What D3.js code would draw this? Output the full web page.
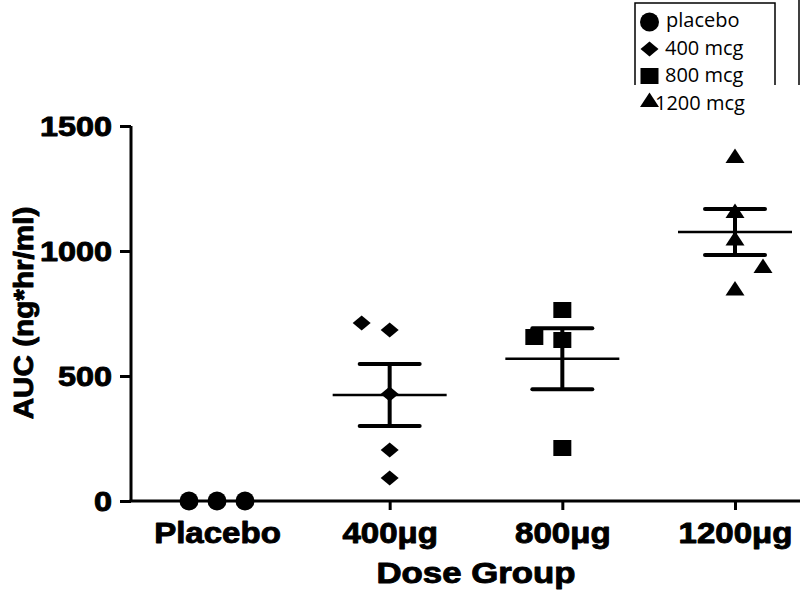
<!DOCTYPE html>
<html>
<head>
<meta charset="utf-8">
<script src="https://cdn.jsdelivr.net/npm/d3@7"></script>
<style>
  html, body { margin: 0; padding: 0; background: #fff; }
  svg { display: block; }
</style>
</head>
<body>
<svg id="chart" width="800" height="591"></svg>
<script>
// ---------- data ----------
const categories = ["Placebo", "400\u03bcg", "800\u03bcg", "1200\u03bcg"];
const shapes = ["circle", "diamond", "square", "triangle"];
const placeboValues = [0, 0, 0];
const dose400Values = [712, 684, 428, 204, 92];
const dose800Values = [764, 656, 644, 212];
const dose1200Values = [1380, 1160, 1050, 940, 850];
// column slot of each point (GraphPad-style scatter spreading)
const placeboSlots = [-1, 0, 1];
const dose400Slots = [-1, 0, 0, 0, 0];
const dose800Slots = [0, -1, 0, 0];
const dose1200Slots = [0, 0, 0, 1, 0];
const yTicks = [0, 500, 1000, 1500];
const legendLabels = ["placebo", "400 mcg", "800 mcg", "1200 mcg"];

const groups = [
  { cat: categories[0], shape: shapes[0], values: placeboValues, slots: placeboSlots, bars: false },
  { cat: categories[1], shape: shapes[1], values: dose400Values, slots: dose400Slots, bars: true },
  { cat: categories[2], shape: shapes[2], values: dose800Values, slots: dose800Slots, bars: true },
  { cat: categories[3], shape: shapes[3], values: dose1200Values, slots: dose1200Slots, bars: true }
];

// ---------- scales ----------
const svg = d3.select("#chart");
const y = d3.scaleLinear().domain([0, 1500]).range([501, 126]);
const x = d3.scalePoint().domain(categories).range([217, 735]);
const axisX0 = 131;
const slotW = 28;
const boldFont = "'Liberation Sans', Arial, sans-serif";

function markerPath(shape, cx, cy) {
  const p = d3.path();
  if (shape === "circle") {
    p.moveTo(cx + 9.5, cy);
    p.arc(cx, cy, 9.5, 0, 2 * Math.PI);
  } else if (shape === "diamond") {
    p.moveTo(cx, cy - 7.5); p.lineTo(cx + 9, cy); p.lineTo(cx, cy + 7.5); p.lineTo(cx - 9, cy); p.closePath();
  } else if (shape === "square") {
    p.rect(cx - 9, cy - 8, 18, 16);
  } else {
    p.moveTo(cx, cy - 7.5); p.lineTo(cx + 9.5, cy + 7); p.lineTo(cx - 9.5, cy + 7); p.closePath();
  }
  return p.toString();
}

function heavy(sel) {
  sel.attr("fill", "#000").attr("stroke", "#000").attr("stroke-width", 0.9).attr("stroke-linejoin", "round");
}

// ---------- axes ----------
const yAxis = svg.append("g")
  .attr("transform", `translate(${axisX0},0)`)
  .call(d3.axisLeft(y).tickValues(yTicks).tickSize(11).tickPadding(0).tickFormat(d3.format("d")));
yAxis.select(".domain").attr("d", `M0,${y(1500)}V${y(0)}`).attr("stroke", "#000").attr("stroke-width", 3);
yAxis.selectAll(".tick line").attr("stroke", "#000").attr("stroke-width", 3);
yAxis.selectAll(".tick text")
  .attr("x", null)
  .attr("font-family", boldFont)
  .attr("font-weight", "bold")
  .attr("font-size", 27)
  .attr("dy", "0.35em")
  .attr("transform", "translate(-19,0) scale(1.2,1)")
  .call(heavy);

const xAxis = svg.append("g")
  .attr("transform", `translate(0,${y(0)})`)
  .call(d3.axisBottom(x).tickSize(9).tickPadding(0));
xAxis.select(".domain").attr("d", `M${axisX0 - 1.5},0H800`).attr("stroke", "#000").attr("stroke-width", 3);
xAxis.selectAll(".tick line").attr("stroke", "#000").attr("stroke-width", 3);
xAxis.selectAll(".tick text")
  .attr("y", null)
  .attr("font-family", boldFont)
  .attr("font-weight", "bold")
  .attr("font-size", 29)
  .attr("dy", "0.71em")
  .attr("transform", "translate(0,21) scale(1.14,1)")
  .call(heavy);

// ---------- axis titles ----------
svg.append("text")
  .attr("transform", "translate(476,583) scale(1.2,1)")
  .attr("text-anchor", "middle")
  .attr("font-family", boldFont)
  .attr("font-weight", "bold")
  .attr("font-size", 29)
  .text("Dose Group")
  .call(heavy);

svg.append("text")
  .attr("transform", "translate(33,313) rotate(-90) scale(1.06,1)")
  .attr("text-anchor", "middle")
  .attr("font-family", boldFont)
  .attr("font-weight", "bold")
  .attr("font-size", 28)
  .text("AUC (ng*hr/ml)")
  .call(heavy);

// ---------- points ----------
groups.forEach(g => {
  const cx = x(g.cat);
  svg.append("g").selectAll("path")
    .data(g.values.map((v, i) => ({ v, s: g.slots[i] })))
    .join("path")
    .attr("d", d => markerPath(g.shape, cx + d.s * slotW, y(d.v)))
    .attr("fill", "#000");
});

// ---------- mean ± SEM ----------
groups.filter(g => g.bars).forEach(g => {
  const cx = x(g.cat);
  const m = d3.mean(g.values);
  const sem = d3.deviation(g.values) / Math.sqrt(g.values.length);
  const eg = svg.append("g").attr("stroke", "#000").attr("fill", "none");
  eg.append("line").attr("x1", cx).attr("x2", cx).attr("y1", y(m + sem)).attr("y2", y(m - sem)).attr("stroke-width", 4);
  [m + sem, m - sem].forEach(v => {
    eg.append("line").attr("x1", cx - 30).attr("x2", cx + 30).attr("y1", y(v)).attr("y2", y(v))
      .attr("stroke-width", 4).attr("stroke-linecap", "round");
  });
  eg.append("line").attr("x1", cx - 57).attr("x2", cx + 57).attr("y1", y(m)).attr("y2", y(m)).attr("stroke-width", 2.5);
});

// ---------- legend ----------
const lg = svg.append("g");
lg.append("path").attr("d", "M635,85V3H775V85").attr("fill", "none").attr("stroke", "#000").attr("stroke-width", 1.5);
lg.append("path").attr("d", "M799,0V85").attr("fill", "none").attr("stroke", "#000").attr("stroke-width", 1.5);
const legendPos = [
  { mx: 649.5, my: 22, tx: 666, ty: 27 },
  { mx: 649.5, my: 49, tx: 665, ty: 55 },
  { mx: 649.5, my: 76, tx: 665, ty: 82 },
  { mx: 649.5, my: 100, tx: 655, ty: 110 }
];
legendLabels.forEach((lab, i) => {
  const p = legendPos[i];
  lg.append("path").attr("d", markerPath(shapes[i], p.mx, p.my)).attr("fill", "#000");
  lg.append("text")
    .attr("x", p.tx).attr("y", p.ty)
    .attr("font-family", "'Open Sans', 'Liberation Sans', sans-serif")
    .attr("font-size", 20)
    .attr("fill", "#000")
    .text(lab);
});
</script>
</body>
</html>
